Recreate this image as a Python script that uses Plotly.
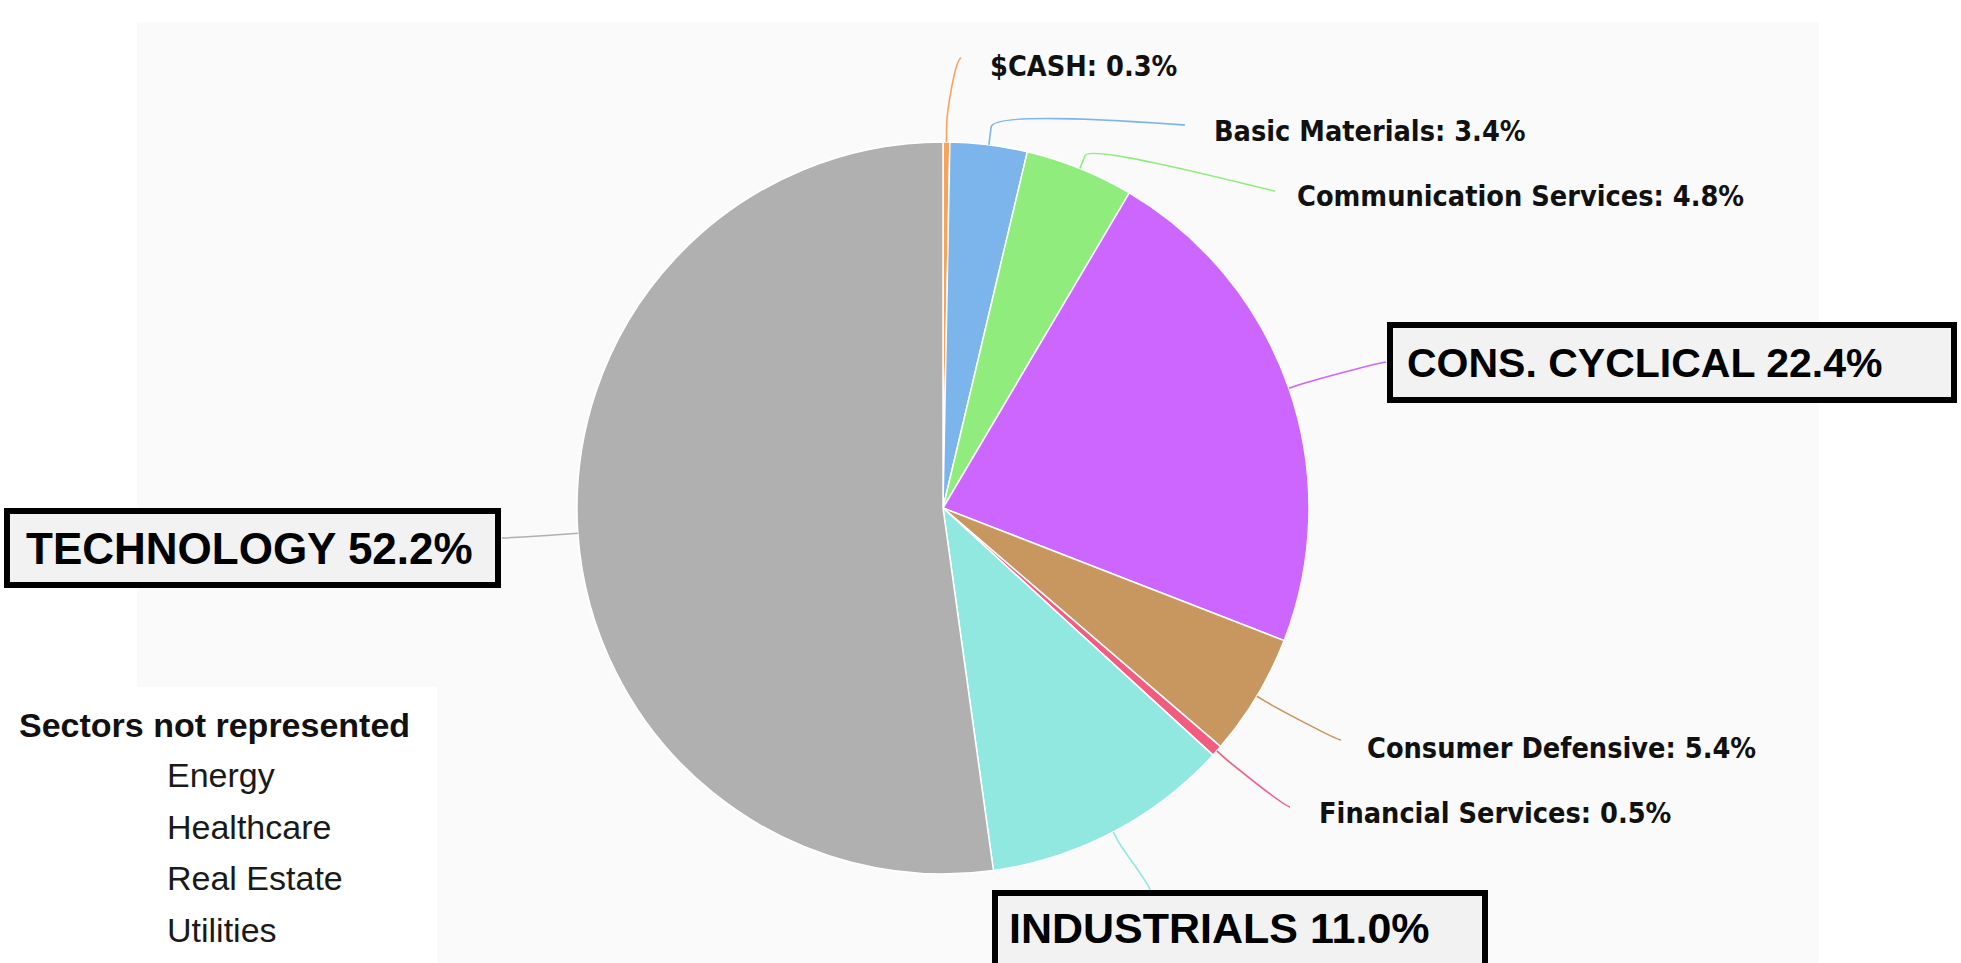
import math
import plotly.graph_objects as go

# ---------------- data ----------------
sectors = ["$CASH", "Basic Materials", "Communication Services", "Consumer Cyclical",
           "Consumer Defensive", "Financial Services", "Industrials", "Technology"]
weights = [0.3, 3.4, 4.8, 22.4, 5.4, 0.5, 11.0, 52.2]
colors = ["#f7a35c", "#7cb5ec", "#90ed7d", "#cc66ff", "#c8965f", "#f15c80", "#91e8e1", "#b0b0b0"]
big_names = {"Consumer Cyclical": "CONS. CYCLICAL", "Industrials": "INDUSTRIALS",
             "Technology": "TECHNOLOGY"}
missing_title = "Sectors not represented"
missing = ["Energy", "Healthcare", "Real Estate", "Utilities"]

# ---------------- layout constants (pixels) ----------------
W, H = 1961, 963
CX, CY, R = 943, 508, 366

def px(x):
    return x / W

def py(y):
    return 1 - y / H

# small label placements: label left x, label centre y, connector end, radial offset
small_pos = {
    "$CASH": dict(lx=988, ly=66, end=(961, 58), d=15, arrive=(-6, 2)),
    "Basic Materials": dict(lx=1212, ly=131, end=(1185, 125), d=18, arrive=(-5, 0)),
    "Communication Services": dict(lx=1295, ly=196, end=(1275, 191), d=14, arrive=(-5, 0)),
    "Consumer Defensive": dict(lx=1365, ly=748, end=(1341, 740), d=10, arrive=(-5, 0)),
    "Financial Services": dict(lx=1317, ly=813, end=(1290, 807), d=10, arrive=(-5, 0)),
}
big_pos = {
    "Consumer Cyclical": dict(box=(1390, 325, 1954, 400), tx=1405, ty=363, size=41,
                              end=(1386, 362), d=10, arrive=(-5, 0)),
    "Industrials": dict(box=(995, 893, 1485, 990), tx=1007, ty=928, size=43,
                        end=(1150, 890), d=10, arrive=(0, -5)),
    "Technology": dict(box=(7, 511, 498, 585), tx=24, ty=548, size=44,
                       end=(502, 538), d=10, arrive=(5, 0)),
}

fig = go.Figure()
fig.add_trace(go.Pie(
    labels=sectors, values=weights, sort=False, direction="clockwise", rotation=0,
    marker=dict(colors=colors, line=dict(color="white", width=1.5)),
    textinfo="none", hoverinfo="label+percent", showlegend=False,
    domain=dict(x=[px(CX - R), px(CX + R)], y=[py(CY + R), py(CY - R)]),
))

shapes = []
annotations = []

# background panels
shapes.append(dict(type="rect", xref="paper", yref="paper", layer="below",
                   x0=px(137), x1=px(1819), y0=py(963), y1=py(22),
                   fillcolor="#fafafa", line=dict(width=0)))
shapes.append(dict(type="rect", xref="paper", yref="paper", layer="below",
                   x0=px(0), x1=px(437), y0=py(963), y1=py(687),
                   fillcolor="#ffffff", line=dict(width=0)))

total = sum(weights)
cum = 0.0
for name, w, col in zip(sectors, weights, colors):
    mid = (cum + w / 2) / total * 2 * math.pi
    cum += w
    dx, dy = math.sin(mid), -math.cos(mid)
    pos = small_pos.get(name) or big_pos.get(name)
    S = (CX + R * dx, CY + R * dy)
    B = (CX + (R + pos["d"]) * dx, CY + (R + pos["d"]) * dy)
    P2 = (2 * B[0] - S[0], 2 * B[1] - S[1])
    T = pos["end"]
    P1 = (T[0] + pos["arrive"][0], T[1] + pos["arrive"][1])
    path = "M {} {} L {} {} C {} {}, {} {}, {} {}".format(
        px(S[0]), py(S[1]), px(B[0]), py(B[1]), px(P2[0]), py(P2[1]),
        px(P1[0]), py(P1[1]), px(T[0]), py(T[1]))
    shapes.append(dict(type="path", xref="paper", yref="paper", path=path,
                       line=dict(color=col, width=1.6), layer="above"))
    if name in small_pos:
        annotations.append(dict(
            x=px(pos["lx"]), y=py(pos["ly"]), xref="paper", yref="paper",
            xanchor="left", yanchor="middle", showarrow=False,
            text="<b>{}: {:.1f}%</b>".format(name, w),
            font=dict(family="DejaVu Sans Condensed, DejaVu Sans", size=28.6, color="#111111")))
    else:
        x0, y0, x1, y1 = pos["box"]
        shapes.append(dict(type="rect", xref="paper", yref="paper", layer="above",
                           x0=px(x0), x1=px(x1), y0=py(y1), y1=py(y0),
                           fillcolor="#f2f2f2", line=dict(color="#000000", width=6)))
        annotations.append(dict(
            x=px(pos["tx"]), y=py(pos["ty"]), xref="paper", yref="paper",
            xanchor="left", yanchor="middle", showarrow=False,
            text="<b>{} {:.1f}%</b>".format(big_names[name], w),
            font=dict(family="Liberation Sans, Arial", size=pos["size"], color="#000000")))

# sectors not represented block
annotations.append(dict(x=px(17), y=py(725), xref="paper", yref="paper",
                        xanchor="left", yanchor="middle", showarrow=False,
                        text="<b>{}</b>".format(missing_title),
                        font=dict(family="Liberation Sans, Arial", size=34, color="#111111")))
for i, m in enumerate(missing):
    annotations.append(dict(x=px(165), y=py(775 + i * 51.7), xref="paper", yref="paper",
                            xanchor="left", yanchor="middle", showarrow=False, text=m,
                            font=dict(family="Liberation Sans, Arial", size=34, color="#1a1a1a")))

fig.update_layout(
    width=W, height=H, margin=dict(l=0, r=0, t=0, b=0),
    paper_bgcolor="white", plot_bgcolor="white",
    shapes=shapes, annotations=annotations, showlegend=False,
)
fig.write_html("out.html", config={"displayModeBar": False},
               post_script="document.body.style.margin='0';document.body.style.overflow='hidden';")
